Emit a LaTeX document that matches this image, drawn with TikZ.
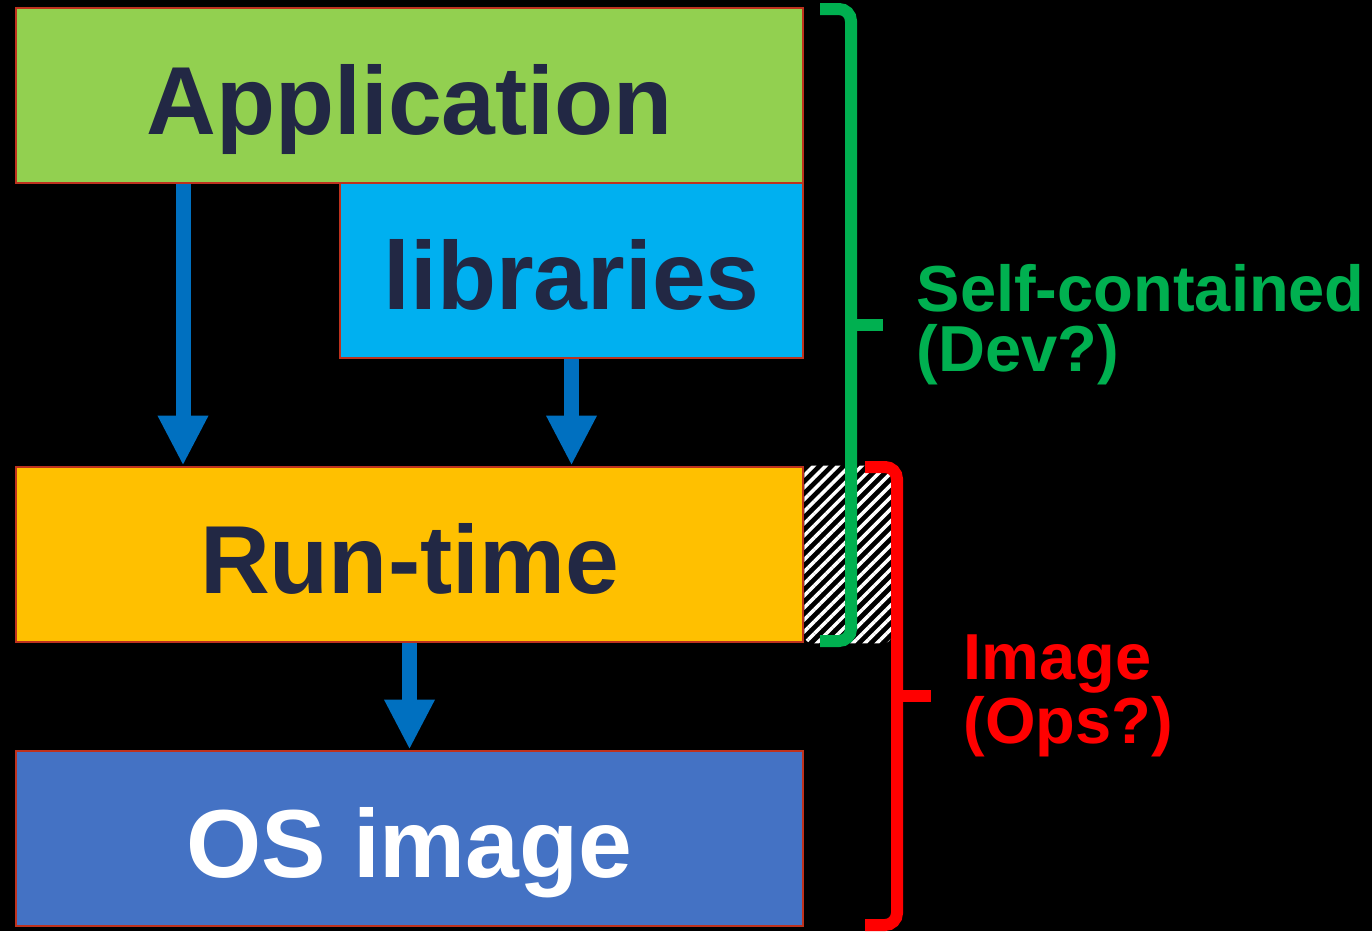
\documentclass[tikz,border=0pt]{standalone}
\usepackage{fontspec}
\setmainfont{Liberation Sans}
\usetikzlibrary{arrows.meta,patterns.meta,positioning}
\definecolor{appgreen}{HTML}{92D050}
\definecolor{libblue}{HTML}{00B0F0}
\definecolor{rtorange}{HTML}{FFC000}
\definecolor{osblue}{HTML}{4472C4}
\definecolor{flowblue}{HTML}{0070C0}
\definecolor{edgered}{RGB}{190,50,30}
\definecolor{inkblue}{RGB}{34,40,68}
\definecolor{devgreen}{HTML}{00B050}
\definecolor{opsred}{HTML}{FF0000}
\tikzset{
	layer/.style={draw=edgered, line width=0.8pt, minimum width=7.87cm, minimum height=1.75cm, inner sep=0pt, text height=0.78cm, text depth=0pt, text=inkblue, font=\fontsize{27.5}{30}\selectfont\bfseries},
	flow/.style={draw=flowblue, line width=0.15cm, -{Triangle[width=0.47cm,length=0.5cm]}},
	bracket/.style={line width=0.12cm, rounded corners=0.12cm},
	side/.style={inner sep=0pt, align=left, font=\fontsize{18.5}{17}\selectfont\bfseries}
}

\begin{document}
\begin{tikzpicture}
			%%%%% START %%%%%
			
			\fill[black] (0, 0) rectangle (13.72, 9.31);
			\useasboundingbox (0, 0) rectangle (13.72, 9.31);
			
			\node[layer, fill=appgreen] (app) at (4.095, 8.355) {Application};
			\node[layer, fill=libblue, minimum width=4.63cm] (lib) at (5.715, 6.605) {libraries};
			\node[layer, fill=rtorange] (run) at (4.095, 3.765) {Run-time};
			\node[layer, fill=osblue, text=white] (os) at (4.095, 0.925) {OS image};
			
			\path[fill=black, rounded corners=0.08cm] (run.north east) rectangle ([xshift=0.87cm]run.south east);
			\path[pattern={Lines[angle=45, distance=0.085cm, line width=0.035cm]}, pattern color=white, rounded corners=0.08cm] (run.north east) rectangle ([xshift=0.87cm]run.south east);
			
			\draw[flow] ([xshift=-2.265cm]app.south) -- ([xshift=-2.265cm]run.north);
			\draw[flow] (lib.south) -- (lib.south |- run.north);
			\draw[flow] (run.south) -- (os.north);
			
			\coordinate (gtip) at (8.83, 6.06);
			\draw[bracket, draw=devgreen] (8.20, 9.22) -- (8.51, 9.22) -- (8.51, 2.90) -- (8.20, 2.90);
			\draw[line width=0.12cm, draw=devgreen] (8.51, 6.06) -- (gtip);
			\node[side, text=devgreen, right=0.33cm of gtip] (devlabel) {Self-contained\\(Dev?)};
			
			\coordinate (rtip) at (9.31, 2.35);
			\draw[bracket, draw=opsred] (8.65, 4.64) -- (8.97, 4.64) -- (8.97, 0.06) -- (8.65, 0.06);
			\draw[line width=0.12cm, draw=opsred] (8.97, 2.35) -- (rtip);
			\node[side, text=opsred, right=0.32cm of rtip] (opslabel) {Image\\(Ops?)};
			
			%%%%% END %%%%%
\end{tikzpicture}
\end{document}
